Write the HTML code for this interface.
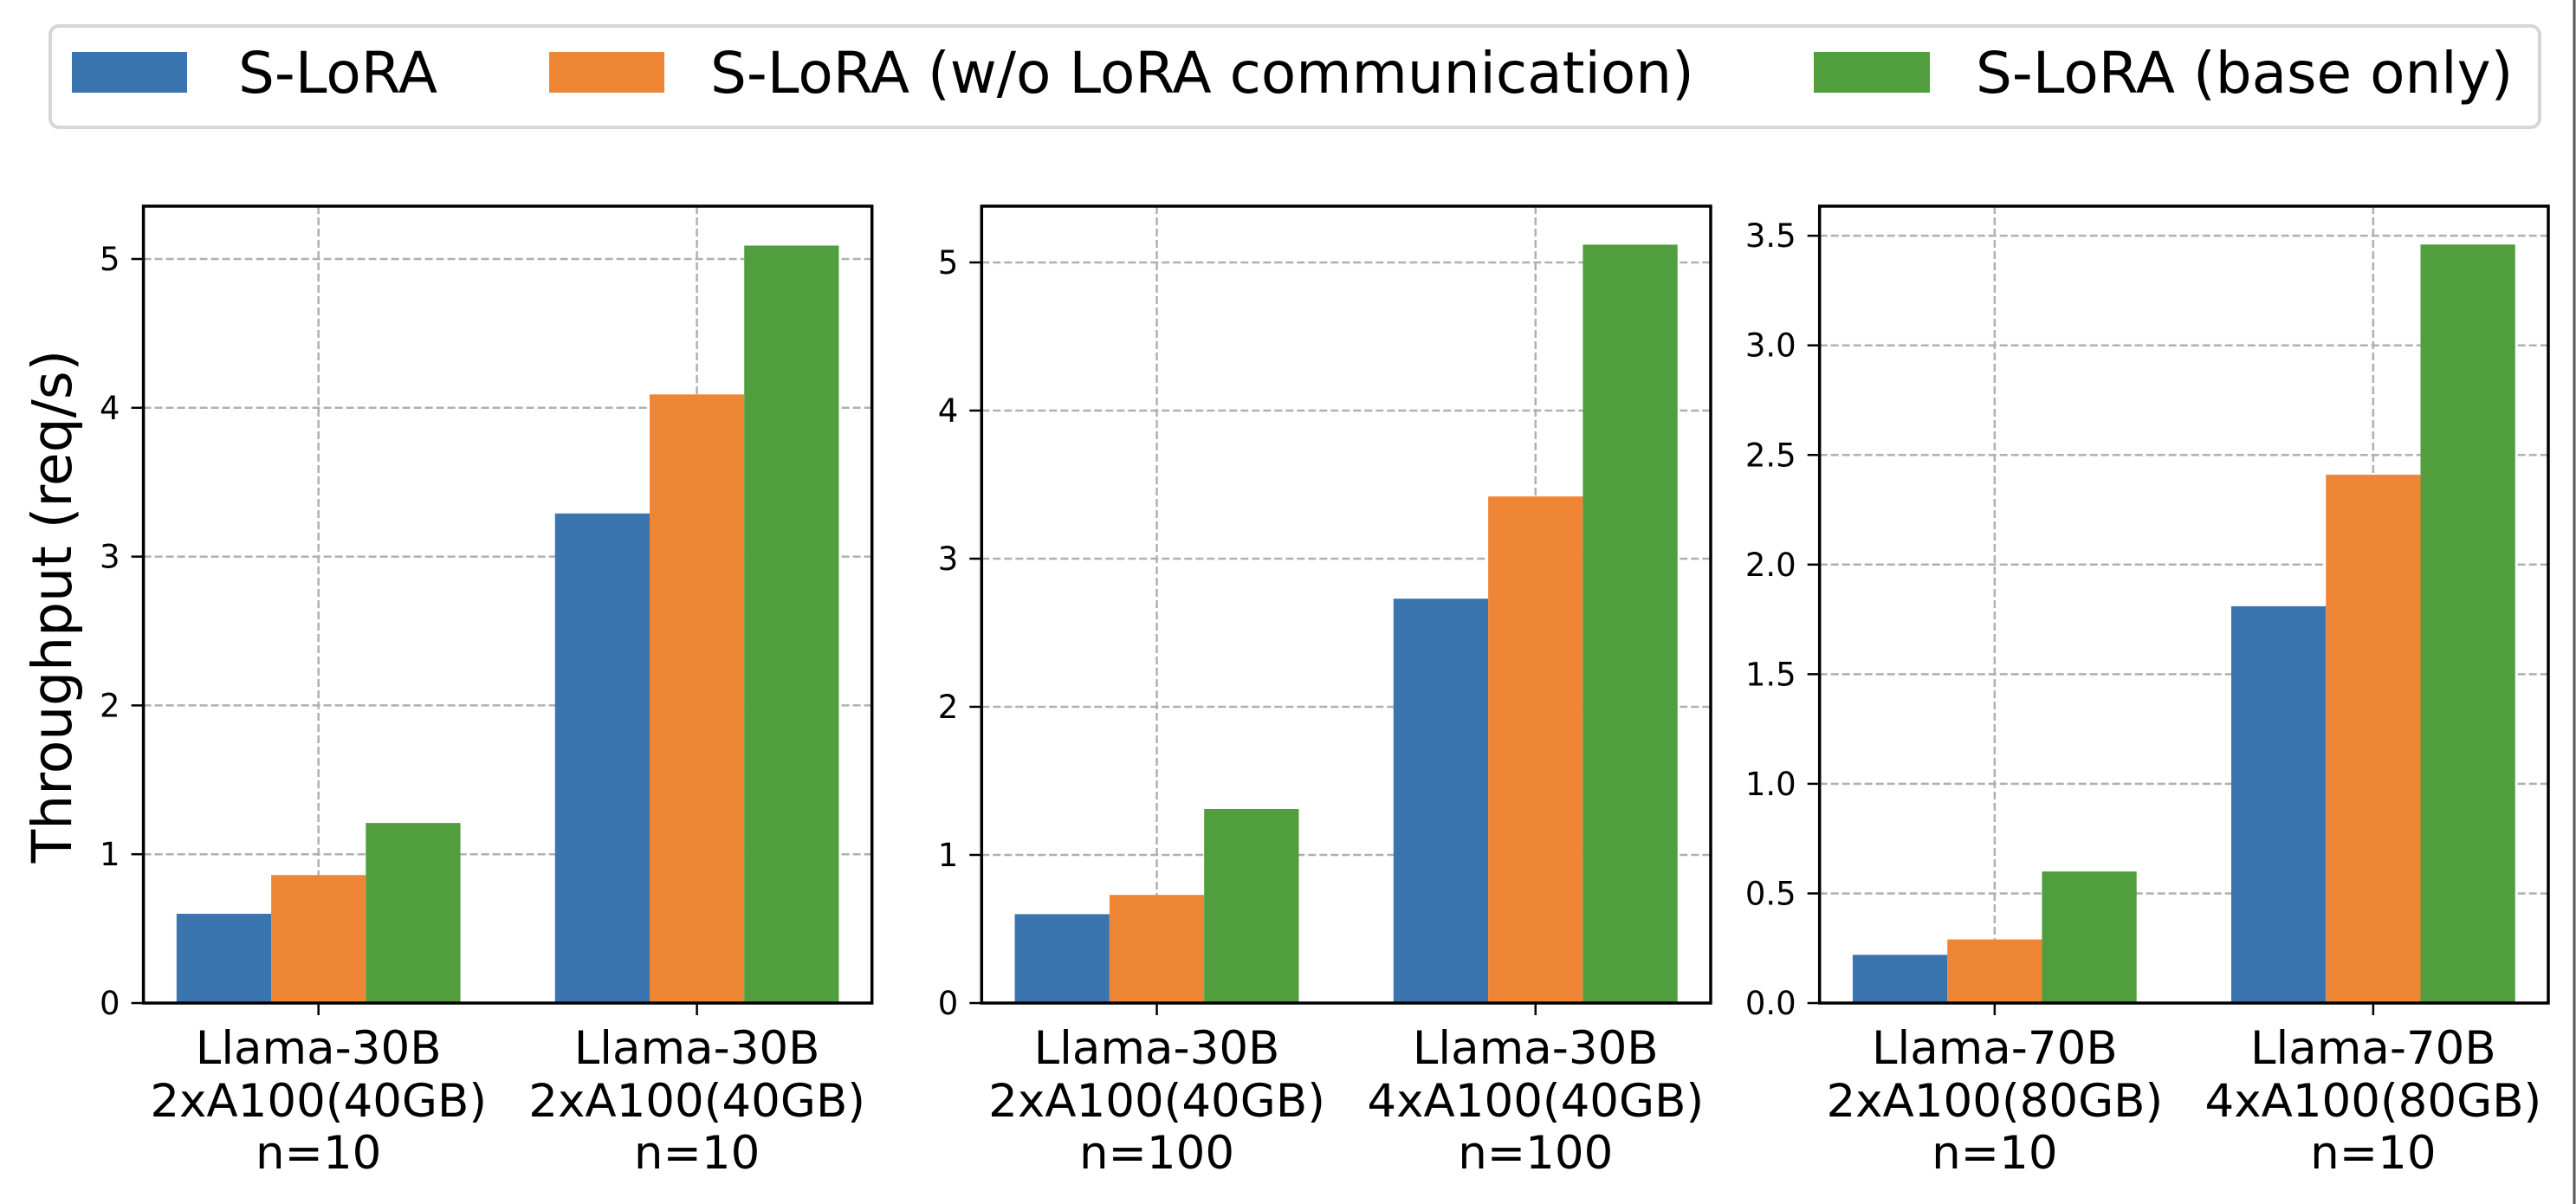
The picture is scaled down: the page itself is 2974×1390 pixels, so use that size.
<!DOCTYPE html>
<html><head><meta charset="utf-8">
<style>
html,body{margin:0;padding:0;background:#fff;}
svg{display:block;font-family:"DejaVu Sans","Liberation Sans",sans-serif;}
</style></head>
<body>
<svg id="fig" width="2974" height="1390" viewBox="0 0 2974 1390" xmlns="http://www.w3.org/2000/svg">
  <rect x="0" y="0" width="2974" height="1390" fill="#fff"/>
  <line x1="2972" y1="0" x2="2972" y2="1390" stroke="#555" stroke-width="3"/>
  <g>
    <rect x="58" y="30" width="2874" height="117" rx="10" fill="#fff" stroke="#d6d6d6" stroke-width="4"/>
    <g>
      <rect x="83" y="60" width="133" height="47" fill="#3a75af"/>
      <text x="275" y="107" font-size="66" fill="#000">S-LoRA</text>
    </g>
    <g>
      <rect x="634" y="60" width="133" height="47" fill="#ef8636"/>
      <text x="820" y="107" font-size="66" fill="#000">S-LoRA (w/o LoRA communication)</text>
    </g>
    <g>
      <rect x="2094" y="60" width="134" height="47" fill="#519e3e"/>
      <text x="2281" y="107" font-size="66" fill="#000">S-LoRA (base only)</text>
    </g>
  </g>
  <text transform="translate(82,700) rotate(-90)" text-anchor="middle" font-size="63" fill="#000">Throughput (req/s)</text>
  <g id="panels"></g>
</svg>
<script>
// Panel 1 data
const p1Categories = [["Llama-30B","2xA100(40GB)","n=10"],["Llama-30B","2xA100(40GB)","n=10"]];
const p1SLoRA = [0.6, 3.29];
const p1NoComm = [0.86, 4.09];
const p1BaseOnly = [1.21, 5.09];
const p1Ticks = [0,1,2,3,4,5];
const p1TickLabels = ["0","1","2","3","4","5"];
const p1YMax = 5.355;
// Panel 2 data
const p2Categories = [["Llama-30B","2xA100(40GB)","n=100"],["Llama-30B","4xA100(40GB)","n=100"]];
const p2SLoRA = [0.6, 2.73];
const p2NoComm = [0.73, 3.42];
const p2BaseOnly = [1.31, 5.12];
const p2Ticks = [0,1,2,3,4,5];
const p2TickLabels = ["0","1","2","3","4","5"];
const p2YMax = 5.38;
// Panel 3 data
const p3Categories = [["Llama-70B","2xA100(80GB)","n=10"],["Llama-70B","4xA100(80GB)","n=10"]];
const p3SLoRA = [0.22, 1.81];
const p3NoComm = [0.29, 2.41];
const p3BaseOnly = [0.6, 3.46];
const p3Ticks = [0,0.5,1,1.5,2,2.5,3,3.5];
const p3TickLabels = ["0.0","0.5","1.0","1.5","2.0","2.5","3.0","3.5"];
const p3YMax = 3.635;

const seriesColors = ["#3a75af","#ef8636","#519e3e"];
const seriesKeys = ["s-lora","no-comm","base-only"];
const NS = "http://www.w3.org/2000/svg";
const root = document.getElementById("panels");

function mk(tag, attrs, parent){
  const e = document.createElementNS(NS, tag);
  for (const k in attrs) e.setAttribute(k, attrs[k]);
  parent.appendChild(e);
  return e;
}

function drawPanel(idx, left, right, cats, series, ticks, tickLabels, ymax){
  const top = 238, bottom = 1158;
  const g = mk("g", {}, root);
  
  
  const xmin = -0.4625, xmax = 1.4625;
  const xs = v => left + (v - xmin) / (xmax - xmin) * (right - left);
  const ys = v => bottom - v / ymax * (bottom - top);
  ticks.forEach((t, i) => {
    const gl = mk("line", {x1:left, x2:right, y1:ys(t), y2:ys(t), stroke:"#b0b0b0", "stroke-width":2.5, "stroke-dasharray":"9,4"}, g);
    
    
  });
  cats.forEach((c, i) => {
    const gl = mk("line", {x1:xs(i), x2:xs(i), y1:top, y2:bottom, stroke:"#b0b0b0", "stroke-width":2.5, "stroke-dasharray":"9,4"}, g);
    
    
  });
  const bw = 0.25;
  series.forEach((vals, s) => {
    vals.forEach((v, i) => {
      const x0 = xs(i + (s - 1) * bw - bw / 2);
      const x1 = xs(i + (s - 1) * bw + bw / 2);
      const r = mk("rect", {x:x0, y:ys(v), width:x1 - x0, height:ys(0) - ys(v), fill:seriesColors[s]}, g);
      
      
    });
  });
  const fr = mk("rect", {x:left, y:top, width:right - left, height:bottom - top, fill:"none", stroke:"#000", "stroke-width":3.5}, g);
  
  
  ticks.forEach((t, i) => {
    const tl = mk("line", {x1:left - 14, x2:left, y1:ys(t), y2:ys(t), stroke:"#000", "stroke-width":2.5}, g);
    
    
    const tx = mk("text", {x:left - 27, y:ys(t) + 13, "text-anchor":"end", "font-size":37, fill:"#000"}, g);
    tx.textContent = tickLabels[i];
    
    
  });
  const baselines = [1228, 1289, 1349];
  cats.forEach((c, i) => {
    const tl = mk("line", {x1:xs(i), x2:xs(i), y1:bottom, y2:bottom + 14, stroke:"#000", "stroke-width":2.5}, g);
    
    
    const tx = mk("text", {"text-anchor":"middle", "font-size":53, fill:"#000"}, g);
    
    
    c.forEach((line, j) => {
      const ts = mk("tspan", {x:xs(i), y:baselines[j]}, tx);
      ts.textContent = line;
    });
  });
}

drawPanel(1, 165.6, 1006.7, p1Categories, [p1SLoRA, p1NoComm, p1BaseOnly], p1Ticks, p1TickLabels, p1YMax);
drawPanel(2, 1133.3, 1975, p2Categories, [p2SLoRA, p2NoComm, p2BaseOnly], p2Ticks, p2TickLabels, p2YMax);
drawPanel(3, 2100.7, 2942, p3Categories, [p3SLoRA, p3NoComm, p3BaseOnly], p3Ticks, p3TickLabels, p3YMax);
</script>
</body></html>
